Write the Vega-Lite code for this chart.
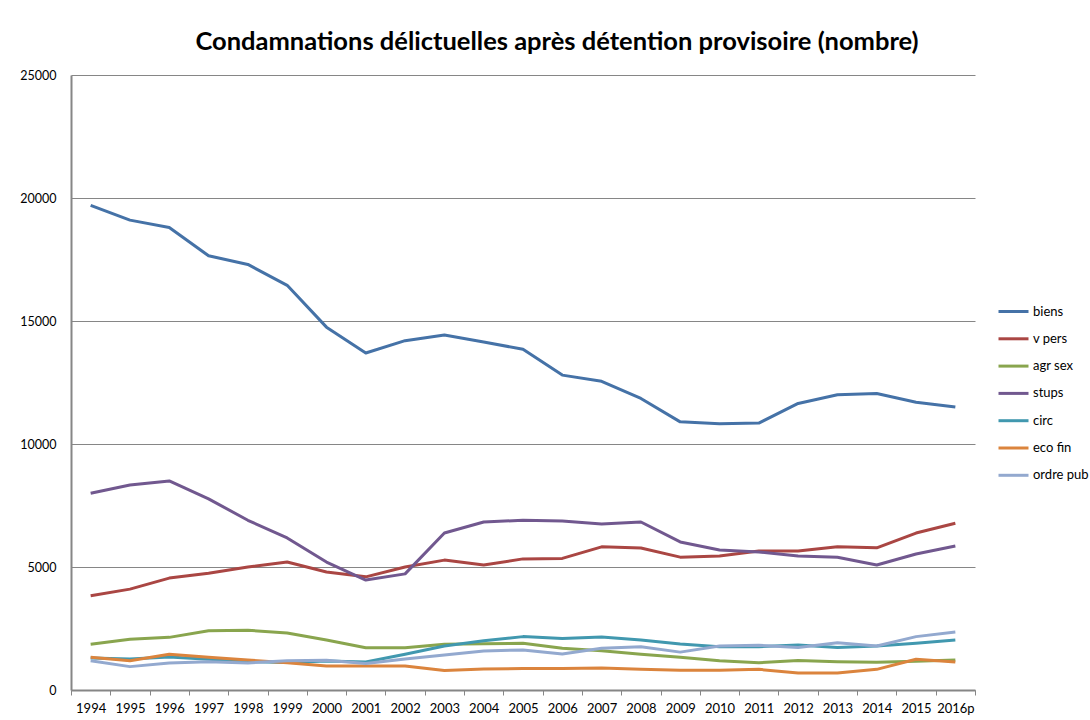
{
  "$schema": "https://vega.github.io/schema/vega-lite/v6.json",
  "autosize": {"type": "none"},
  "width": 904,
  "height": 615,
  "padding": {"left": 71, "top": 75, "right": 115, "bottom": 30},
  "background": "white",
  "title": {
    "text": "Condamnations délictuelles après détention provisoire (nombre)",
    "font": "Lato",
    "fontSize": 25.5,
    "fontWeight": "bold",
    "color": "black",
    "anchor": "middle",
    "dx": 34,
    "offset": 14
  },
  "data": {
    "values": [
      {"annee":"1994","serie":"biens","valeur":19700},{"annee":"1995","serie":"biens","valeur":19100},{"annee":"1996","serie":"biens","valeur":18800},{"annee":"1997","serie":"biens","valeur":17650},{"annee":"1998","serie":"biens","valeur":17300},{"annee":"1999","serie":"biens","valeur":16450},{"annee":"2000","serie":"biens","valeur":14750},{"annee":"2001","serie":"biens","valeur":13700},{"annee":"2002","serie":"biens","valeur":14200},{"annee":"2003","serie":"biens","valeur":14430},{"annee":"2004","serie":"biens","valeur":14150},{"annee":"2005","serie":"biens","valeur":13850},{"annee":"2006","serie":"biens","valeur":12800},{"annee":"2007","serie":"biens","valeur":12550},{"annee":"2008","serie":"biens","valeur":11850},{"annee":"2009","serie":"biens","valeur":10900},{"annee":"2010","serie":"biens","valeur":10820},{"annee":"2011","serie":"biens","valeur":10850},{"annee":"2012","serie":"biens","valeur":11650},{"annee":"2013","serie":"biens","valeur":12000},{"annee":"2014","serie":"biens","valeur":12050},{"annee":"2015","serie":"biens","valeur":11700},{"annee":"2016p","serie":"biens","valeur":11500},
      {"annee":"1994","serie":"v pers","valeur":3830},{"annee":"1995","serie":"v pers","valeur":4100},{"annee":"1996","serie":"v pers","valeur":4550},{"annee":"1997","serie":"v pers","valeur":4750},{"annee":"1998","serie":"v pers","valeur":5000},{"annee":"1999","serie":"v pers","valeur":5200},{"annee":"2000","serie":"v pers","valeur":4800},{"annee":"2001","serie":"v pers","valeur":4600},{"annee":"2002","serie":"v pers","valeur":5000},{"annee":"2003","serie":"v pers","valeur":5280},{"annee":"2004","serie":"v pers","valeur":5080},{"annee":"2005","serie":"v pers","valeur":5330},{"annee":"2006","serie":"v pers","valeur":5350},{"annee":"2007","serie":"v pers","valeur":5820},{"annee":"2008","serie":"v pers","valeur":5770},{"annee":"2009","serie":"v pers","valeur":5400},{"annee":"2010","serie":"v pers","valeur":5450},{"annee":"2011","serie":"v pers","valeur":5650},{"annee":"2012","serie":"v pers","valeur":5650},{"annee":"2013","serie":"v pers","valeur":5820},{"annee":"2014","serie":"v pers","valeur":5780},{"annee":"2015","serie":"v pers","valeur":6380},{"annee":"2016p","serie":"v pers","valeur":6780},
      {"annee":"1994","serie":"agr sex","valeur":1860},{"annee":"1995","serie":"agr sex","valeur":2060},{"annee":"1996","serie":"agr sex","valeur":2140},{"annee":"1997","serie":"agr sex","valeur":2410},{"annee":"1998","serie":"agr sex","valeur":2430},{"annee":"1999","serie":"agr sex","valeur":2320},{"annee":"2000","serie":"agr sex","valeur":2030},{"annee":"2001","serie":"agr sex","valeur":1720},{"annee":"2002","serie":"agr sex","valeur":1720},{"annee":"2003","serie":"agr sex","valeur":1860},{"annee":"2004","serie":"agr sex","valeur":1880},{"annee":"2005","serie":"agr sex","valeur":1900},{"annee":"2006","serie":"agr sex","valeur":1700},{"annee":"2007","serie":"agr sex","valeur":1600},{"annee":"2008","serie":"agr sex","valeur":1450},{"annee":"2009","serie":"agr sex","valeur":1330},{"annee":"2010","serie":"agr sex","valeur":1190},{"annee":"2011","serie":"agr sex","valeur":1110},{"annee":"2012","serie":"agr sex","valeur":1200},{"annee":"2013","serie":"agr sex","valeur":1150},{"annee":"2014","serie":"agr sex","valeur":1130},{"annee":"2015","serie":"agr sex","valeur":1170},{"annee":"2016p","serie":"agr sex","valeur":1220},
      {"annee":"1994","serie":"stups","valeur":8000},{"annee":"1995","serie":"stups","valeur":8330},{"annee":"1996","serie":"stups","valeur":8500},{"annee":"1997","serie":"stups","valeur":7770},{"annee":"1998","serie":"stups","valeur":6900},{"annee":"1999","serie":"stups","valeur":6180},{"annee":"2000","serie":"stups","valeur":5200},{"annee":"2001","serie":"stups","valeur":4470},{"annee":"2002","serie":"stups","valeur":4720},{"annee":"2003","serie":"stups","valeur":6380},{"annee":"2004","serie":"stups","valeur":6830},{"annee":"2005","serie":"stups","valeur":6900},{"annee":"2006","serie":"stups","valeur":6870},{"annee":"2007","serie":"stups","valeur":6750},{"annee":"2008","serie":"stups","valeur":6830},{"annee":"2009","serie":"stups","valeur":6020},{"annee":"2010","serie":"stups","valeur":5690},{"annee":"2011","serie":"stups","valeur":5610},{"annee":"2012","serie":"stups","valeur":5450},{"annee":"2013","serie":"stups","valeur":5400},{"annee":"2014","serie":"stups","valeur":5080},{"annee":"2015","serie":"stups","valeur":5530},{"annee":"2016p","serie":"stups","valeur":5850},
      {"annee":"1994","serie":"circ","valeur":1300},{"annee":"1995","serie":"circ","valeur":1260},{"annee":"1996","serie":"circ","valeur":1340},{"annee":"1997","serie":"circ","valeur":1250},{"annee":"1998","serie":"circ","valeur":1150},{"annee":"1999","serie":"circ","valeur":1120},{"annee":"2000","serie":"circ","valeur":1180},{"annee":"2001","serie":"circ","valeur":1140},{"annee":"2002","serie":"circ","valeur":1450},{"annee":"2003","serie":"circ","valeur":1790},{"annee":"2004","serie":"circ","valeur":2000},{"annee":"2005","serie":"circ","valeur":2170},{"annee":"2006","serie":"circ","valeur":2090},{"annee":"2007","serie":"circ","valeur":2150},{"annee":"2008","serie":"circ","valeur":2030},{"annee":"2009","serie":"circ","valeur":1870},{"annee":"2010","serie":"circ","valeur":1760},{"annee":"2011","serie":"circ","valeur":1760},{"annee":"2012","serie":"circ","valeur":1830},{"annee":"2013","serie":"circ","valeur":1730},{"annee":"2014","serie":"circ","valeur":1790},{"annee":"2015","serie":"circ","valeur":1900},{"annee":"2016p","serie":"circ","valeur":2030},
      {"annee":"1994","serie":"eco fin","valeur":1330},{"annee":"1995","serie":"eco fin","valeur":1190},{"annee":"1996","serie":"eco fin","valeur":1450},{"annee":"1997","serie":"eco fin","valeur":1330},{"annee":"1998","serie":"eco fin","valeur":1220},{"annee":"1999","serie":"eco fin","valeur":1110},{"annee":"2000","serie":"eco fin","valeur":980},{"annee":"2001","serie":"eco fin","valeur":980},{"annee":"2002","serie":"eco fin","valeur":980},{"annee":"2003","serie":"eco fin","valeur":790},{"annee":"2004","serie":"eco fin","valeur":850},{"annee":"2005","serie":"eco fin","valeur":870},{"annee":"2006","serie":"eco fin","valeur":870},{"annee":"2007","serie":"eco fin","valeur":890},{"annee":"2008","serie":"eco fin","valeur":840},{"annee":"2009","serie":"eco fin","valeur":800},{"annee":"2010","serie":"eco fin","valeur":800},{"annee":"2011","serie":"eco fin","valeur":840},{"annee":"2012","serie":"eco fin","valeur":690},{"annee":"2013","serie":"eco fin","valeur":690},{"annee":"2014","serie":"eco fin","valeur":840},{"annee":"2015","serie":"eco fin","valeur":1250},{"annee":"2016p","serie":"eco fin","valeur":1140},
      {"annee":"1994","serie":"ordre pub","valeur":1190},{"annee":"1995","serie":"ordre pub","valeur":950},{"annee":"1996","serie":"ordre pub","valeur":1100},{"annee":"1997","serie":"ordre pub","valeur":1150},{"annee":"1998","serie":"ordre pub","valeur":1100},{"annee":"1999","serie":"ordre pub","valeur":1190},{"annee":"2000","serie":"ordre pub","valeur":1210},{"annee":"2001","serie":"ordre pub","valeur":1080},{"annee":"2002","serie":"ordre pub","valeur":1260},{"annee":"2003","serie":"ordre pub","valeur":1420},{"annee":"2004","serie":"ordre pub","valeur":1590},{"annee":"2005","serie":"ordre pub","valeur":1630},{"annee":"2006","serie":"ordre pub","valeur":1460},{"annee":"2007","serie":"ordre pub","valeur":1700},{"annee":"2008","serie":"ordre pub","valeur":1760},{"annee":"2009","serie":"ordre pub","valeur":1540},{"annee":"2010","serie":"ordre pub","valeur":1790},{"annee":"2011","serie":"ordre pub","valeur":1820},{"annee":"2012","serie":"ordre pub","valeur":1730},{"annee":"2013","serie":"ordre pub","valeur":1920},{"annee":"2014","serie":"ordre pub","valeur":1790},{"annee":"2015","serie":"ordre pub","valeur":2170},{"annee":"2016p","serie":"ordre pub","valeur":2360}
    ]
  },
  "mark": {"type": "line", "strokeWidth": 3, "strokeJoin": "round"},
  "encoding": {
    "x": {
      "field": "annee",
      "type": "ordinal",
      "bandPosition": 0.5,
      "scale": {"type": "band", "paddingInner": 0, "paddingOuter": 0},
      "axis": {
        "title": null,
        "labelAngle": 0,
        "labelFont": "Lato",
        "labelFontSize": 13,
        "labelColor": "black",
        "labelPadding": 7,
        "tickBand": "extent",
        "ticks": true,
        "tickSize": 5,
        "tickColor": "#868686",
        "domainColor": "#868686",
        "domainWidth": 2,
        "grid": false
      }
    },
    "y": {
      "field": "valeur",
      "type": "quantitative",
      "scale": {"domain": [0, 25000], "nice": false},
      "axis": {
        "title": null,
        "values": [0, 5000, 10000, 15000, 20000, 25000],
        "format": "d",
        "labelFont": "Lato",
        "labelFontSize": 12.5,
        "labelColor": "black",
        "labelPadding": 15,
        "ticks": false,
        "domainColor": "#868686",
        "domainWidth": 2,
        "grid": true,
        "gridColor": "#868686",
        "gridWidth": 1
      }
    },
    "color": {
      "field": "serie",
      "type": "nominal",
      "sort": ["biens", "v pers", "agr sex", "stups", "circ", "eco fin", "ordre pub"],
      "scale": {
        "domain": ["biens", "v pers", "agr sex", "stups", "circ", "eco fin", "ordre pub"],
        "range": ["#4572A7", "#AA4643", "#89A54E", "#71588F", "#4198AF", "#DB843D", "#93A9CF"]
      },
      "legend": {
        "title": null,
        "orient": "none",
        "legendX": 931,
        "legendY": 225,
        "symbolType": "M-1.5,0H1.5",
        "symbolStrokeWidth": 3,
        "symbolSize": 400,
        "labelFont": "Lato",
        "labelFontSize": 13,
        "labelColor": "black",
        "labelOffset": 8,
        "rowPadding": 8.3
      }
    }
  },
  "config": {
    "view": {"stroke": null}
  }
}
